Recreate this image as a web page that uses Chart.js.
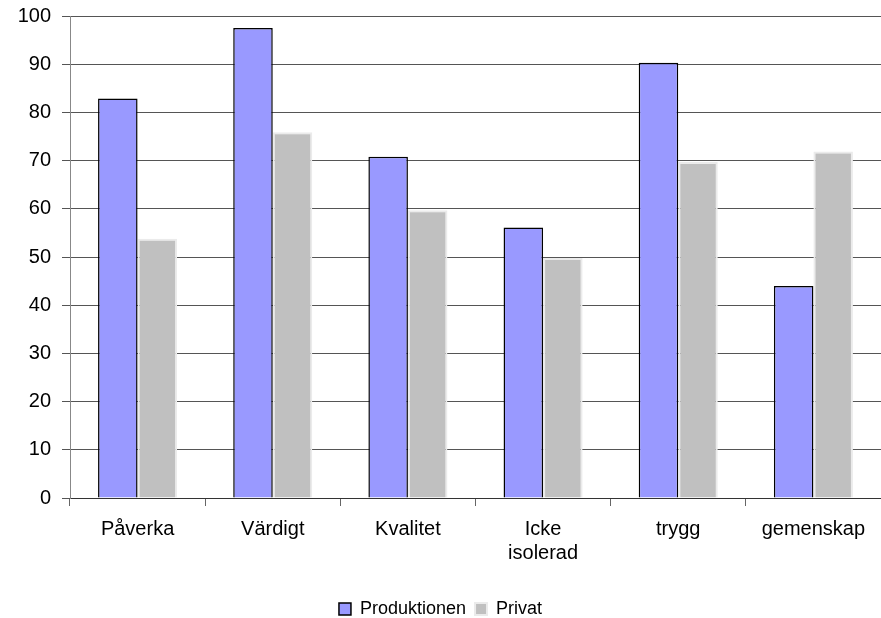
<!DOCTYPE html>
<html>
<head>
<meta charset="utf-8">
<script src="https://cdn.jsdelivr.net/npm/chart.js@4.4.1/dist/chart.umd.min.js"></script>
<style>
html,body{margin:0;padding:0;background:#fff;}
#c{display:block;}
</style>
</head>
<body>
<canvas id="c" width="881" height="618"></canvas>
<script>
const categories = ["Påverka", "Värdigt", "Kvalitet", ["Icke", "isolerad"], "trygg", "gemenskap"];
const produktionen = [82.9, 97.5, 70.8, 56.1, 90.3, 44.0];
const privat = [53.8, 75.9, 59.7, 49.8, 69.7, 71.9];
const yTicks = [0, 10, 20, 30, 40, 50, 60, 70, 80, 90, 100];

const FONT = "'Liberation Sans', Arial, sans-serif";

new Chart(document.getElementById('c'), {
  type: 'bar',
  data: {
    labels: categories,
    datasets: [
      {
        label: 'Produktionen',
        data: produktionen,
        backgroundColor: '#9999ff',
        borderColor: '#000000',
        borderWidth: 1.5,
        borderSkipped: 'bottom'
      },
      {
        label: 'Privat',
        data: privat,
        backgroundColor: '#c0c0c0',
        borderColor: '#ebebeb',
        borderWidth: 2,
        borderSkipped: 'bottom'
      }
    ]
  },
  options: {
    responsive: false,
    animation: false,
    devicePixelRatio: 1,
    layout: { padding: { top: 0, right: 0, left: 0, bottom: -10 } },
    datasets: { bar: { categoryPercentage: 0.585, barPercentage: 1.0 } },
    plugins: {
      legend: {
        position: 'bottom',
        labels: {
          font: { family: FONT, size: 18 },
          color: '#000',
          boxWidth: 12,
          boxHeight: 12,
          padding: 9,
          useBorderRadius: false
        }
      },
      tooltip: { enabled: false }
    },
    scales: {
      x: {
        afterFit: (s) => { s.height = 93; },
        grid: { display: true, drawOnChartArea: false, drawTicks: true, tickLength: 8, offset: true, color: '#666', lineWidth: 1 },
        border: { display: true, color: '#333', width: 1 },
        ticks: { font: { family: FONT, size: 20 }, color: '#000', padding: 11, maxRotation: 0, autoSkip: false }
      },
      y: {
        min: 0, max: 100,
        afterFit: (s) => { s.width = 70; s.paddingTop = 16; },
        afterBuildTicks: (s) => { s.ticks = yTicks.map(v => ({ value: v })); },
        grid: { color: '#555', lineWidth: 1, drawTicks: true, tickLength: 8 },
        border: { display: true, color: '#888', width: 1 },
        ticks: { font: { family: FONT, size: 20 }, color: '#000', padding: 11 }
      }
    }
  }
});
</script>
</body>
</html>
